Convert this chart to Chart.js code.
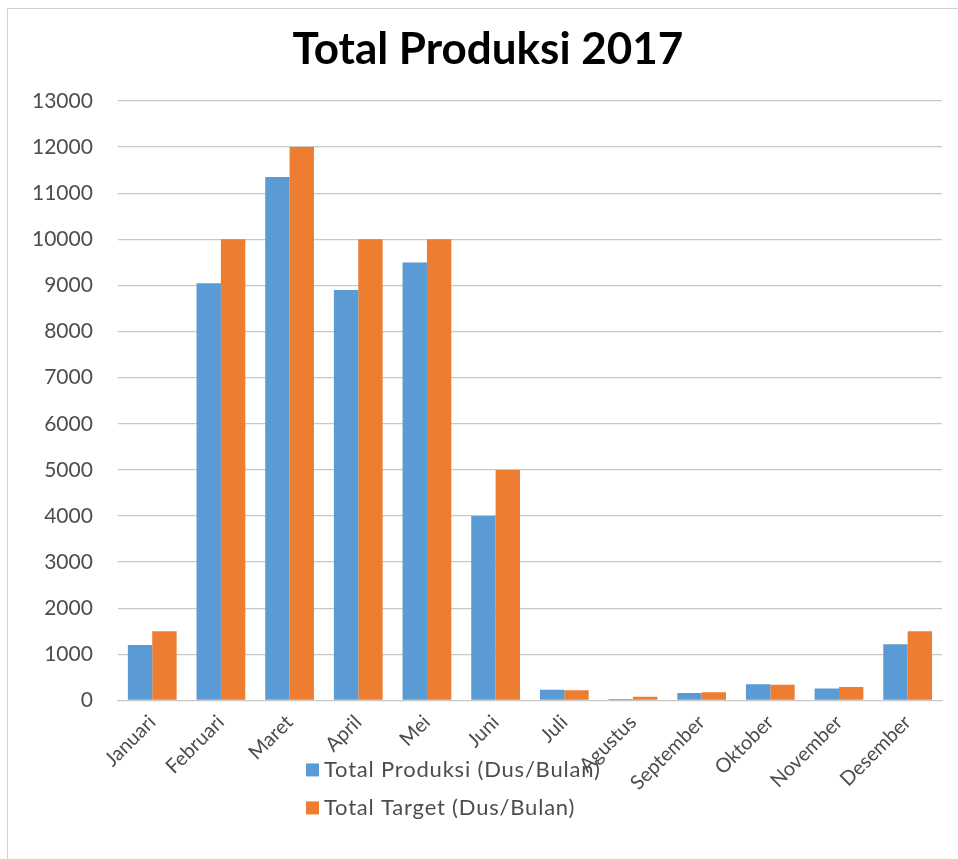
<!DOCTYPE html>
<html>
<head>
<meta charset="utf-8">
<script src="https://cdn.jsdelivr.net/npm/chart.js@4.4.1/dist/chart.umd.min.js"></script>
<style>
  html, body { margin: 0; padding: 0; background: #fff; }
  #frame {
    position: absolute; left: 7px; top: 8px; width: 960px; height: 860px;
    border-left: 1px solid #d0d0d0; border-top: 1px solid #d0d0d0;
  }
  #wrap { position: absolute; left: 0; top: 0; width: 958px; height: 859px; }
</style>
</head>
<body>
<div id="frame"></div>
<div id="wrap"><canvas id="produksi-chart"></canvas></div>
<script>
// data
const months = ['Januari', 'Februari', 'Maret', 'April', 'Mei', 'Juni', 'Juli',
    'Agustus', 'September', 'Oktober', 'November', 'Desember'];
const totalProduksi = [1200, 9050, 11350, 8900, 9500, 4000, 230, 30, 160, 350, 260, 1220];
const totalTarget = [1500, 10000, 12000, 10000, 10000, 5000, 220, 80, 180, 340, 290, 1500];
const chartTitle = 'Total Produksi 2017';

const blue = '#5b9bd5';
const orange = '#ed7d31';
const textGray = '#4d4d4d';

// title centred on the whole frame, not only on the padded box
const frameTitle = {
    id: 'frameTitle',
    afterDraw(chart) {
        const ctx = chart.ctx;
        ctx.save();
        ctx.font = 'bold 44px Lato';
        ctx.fillStyle = '#000';
        ctx.textAlign = 'center';
        ctx.textBaseline = 'middle';
        ctx.fillText(chartTitle, chart.width / 2 + 9, 50);
        ctx.restore();
    }
};

// legend stacked in two rows under the axis, like the original
const stackedLegend = {
    id: 'stackedLegend',
    afterDraw(chart) {
        const ctx = chart.ctx;
        const area = chart.chartArea;
        ctx.save();
        ctx.font = '22px Lato';
        ctx.letterSpacing = '0.8px';
        ctx.textBaseline = 'middle';
        chart.data.datasets.forEach(function (ds, i) {
            const y = area.bottom + 69 + i * 38;
            const x = 306;
            ctx.fillStyle = ds.backgroundColor;
            ctx.fillRect(x, y - 6, 13, 13);
            ctx.fillStyle = textGray;
            ctx.fillText(ds.label, x + 18, y);
        });
        ctx.restore();
    }
};

function getChartData() {
    return {
        labels: months,
        datasets: [{
            label: 'Total Produksi (Dus/Bulan)',
            backgroundColor: blue,
            data: totalProduksi,
        }, {
            label: 'Total Target (Dus/Bulan)',
            backgroundColor: orange,
            data: totalTarget,
        }]
    };
}

function drawChart() {
    new Chart(document.getElementById('produksi-chart'), {
        type: 'bar',
        data: getChartData(),
        plugins: [frameTitle, stackedLegend],
        options: {
            responsive: true,
            maintainAspectRatio: false,
            animation: false,
            categoryPercentage: 0.71,
            barPercentage: 1,
            layout: {
                padding: { left: 7, right: 16, top: 101, bottom: 62 }
            },
            plugins: {
                legend: { display: false },
                tooltip: { enabled: false },
                title: { display: false }
            },
            scales: {
                x: {
                    grid: { display: false },
                    border: { color: '#c8c8c8' },
                    ticks: {
                        color: textGray,
                        font: { family: 'Lato', size: 20 },
                        minRotation: 45,
                        maxRotation: 45,
                        padding: 2
                    }
                },
                y: {
                    min: 0,
                    max: 13000,
                    border: { display: false },
                    grid: { color: '#c8c8c8', drawTicks: false, lineWidth: 1.3 },
                    ticks: {
                        stepSize: 1000,
                        color: textGray,
                        font: { family: 'Lato', size: 21 },
                        padding: 25,
                        callback: function (value) { return String(value); }
                    }
                }
            }
        }
    });
}

Promise.all([
    document.fonts.load('21px Lato'),
    document.fonts.load('bold 44px Lato')
]).then(drawChart, drawChart);
</script>
</body>
</html>
